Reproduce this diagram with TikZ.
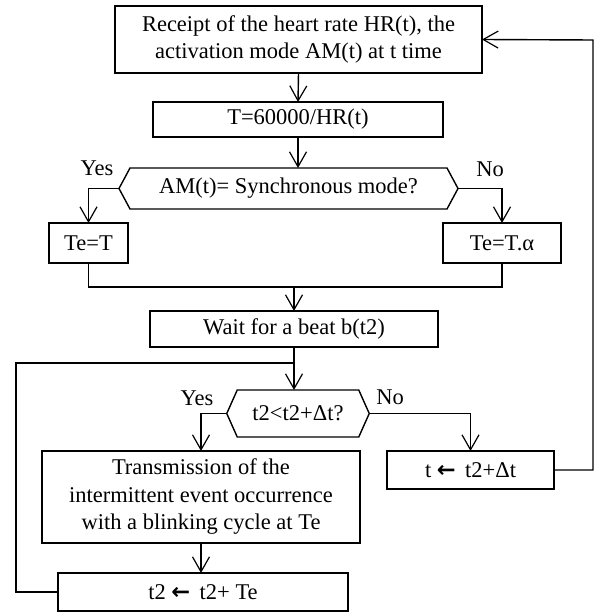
\documentclass[tikz,border=0pt]{standalone}
\usepackage{fontspec}
\setmainfont{Liberation Serif}
\newfontfamily\arrfont{DejaVu Sans}
\usetikzlibrary{arrows.meta,calc}
\begin{document}
\begin{tikzpicture}[x=1pt,y=-1pt,
  font=\fontsize{22.5}{27.5}\selectfont,
  line width=1.4pt,
  procbox/.style={draw,rectangle,inner sep=0pt,outer sep=0pt,align=center},
  hexnode/.style={rectangle,inner sep=0pt,outer sep=0pt,align=center},
  arr/.style={-{Straight Barb[length=15pt,width=17pt,line width=1.2pt]}},
  lbl/.style={inner sep=0pt}]
\useasboundingbox (0,0) rectangle (594,612);
\node[procbox,minimum width=367pt,minimum height=67pt] (box1) at (298.5,39.5)
  {Receipt of the heart rate HR(t), the\\activation mode AM(t) at t time};
\node[procbox,minimum width=290pt,minimum height=35pt] (box2) at (298,119.5) {T=60000/HR(t)};
\node[hexnode,minimum width=339pt,minimum height=41pt] (hex1) at (288.5,188.5) {AM(t)= Synchronous mode?};
\draw (hex1.west) -- ([xshift=11pt]hex1.north west) -- ([xshift=-11pt]hex1.north east) -- (hex1.east)
  -- ([xshift=-11pt]hex1.south east) -- ([xshift=11pt]hex1.south west) -- cycle;
\node[procbox,minimum width=79pt,minimum height=40pt] (teT) at (88.5,243) {Te=T};
\node[procbox,minimum width=118pt,minimum height=40pt] (teTa) at (502,243) {Te=T.α};
\node[procbox,minimum width=288pt,minimum height=36pt] (wait) at (294,329) {Wait for a beat b(t2)};
\node[hexnode,minimum width=142.5pt,minimum height=47pt] (hex2) at (298,413.5) {t2<t2+Δt?};
\draw (hex2.west) -- ([xshift=10.5pt]hex2.north west) -- ([xshift=-10.5pt]hex2.north east) -- (hex2.east)
  -- ([xshift=-10.5pt]hex2.south east) -- ([xshift=10.5pt]hex2.south west) -- cycle;
\node[procbox,minimum width=318pt,minimum height=92pt] (trans) at (201,497)
  {Transmission of the\\intermittent event occurrence\\with a blinking cycle at Te};
\node[procbox,minimum width=167pt,minimum height=38pt] (tbox) at (470.5,470) {t {\arrfont\bfseries ←}\, t2+Δt};
\node[procbox,minimum width=290pt,minimum height=38pt] (t2box) at (203,592) {t2 {\arrfont\bfseries ←}\, t2+ Te};
\node[lbl] (yes1) at (97,168) {Yes};
\node[lbl] (no1) at (490,169) {No};
\node[lbl] (yes2) at (197,398) {Yes};
\node[lbl] (no2) at (390,397) {No};
\coordinate (m) at (294,287);
\coordinate (j) at (294,363);
\coordinate (l) at (16,363);
\coordinate (r) at (593,40);
\draw[arr] (box1.south) -- (box2.north);
\draw[arr] (box2.south) -- (box2.south |- hex1.north);
\draw[arr] (hex1.west) -| (teT.north);
\draw[arr] (hex1.east) -| (teTa.north);
\draw (teT.south) |- (m) -| (teTa.south);
\draw[arr] (m) -- (wait.north);
\draw[arr] (wait.south) -- (wait.south |- hex2.north);
\draw[arr] (hex2.west) -| (trans.north);
\draw[arr] (hex2.east) -| (tbox.north);
\draw[arr] (tbox.east) -| (r) -- (box1.east);
\draw[arr] (trans.south) -- (trans.south |- t2box.north);
\draw (t2box.west) -| (l) -- (j);
\end{tikzpicture}
\end{document}
